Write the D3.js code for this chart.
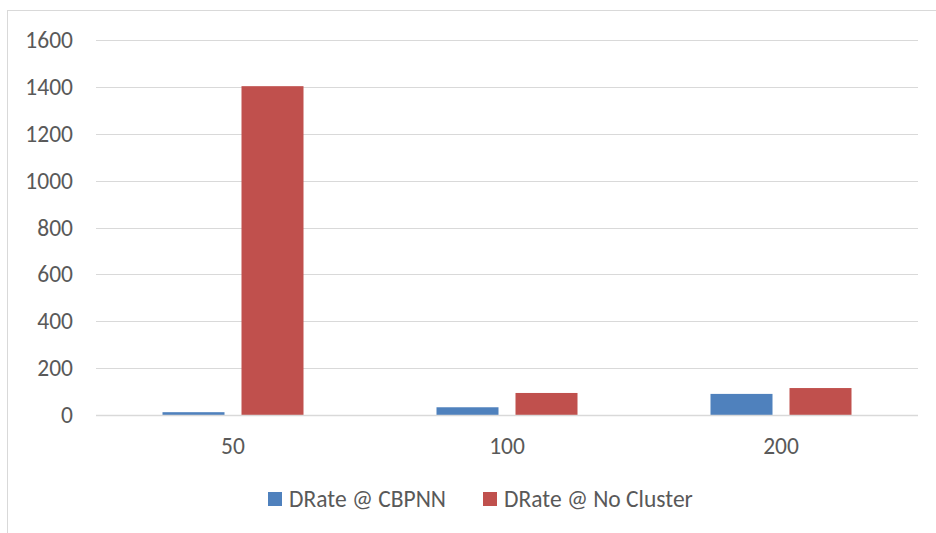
<!DOCTYPE html>
<html>
<head>
<meta charset="utf-8">
<script src="https://cdn.jsdelivr.net/npm/d3@7"></script>
<style>
  html, body { margin: 0; padding: 0; background: #fff; }
  svg { display: block; }
  text { font-family: Carlito, Calibri, "Liberation Sans", Arial, sans-serif; fill: #595959; }
</style>
</head>
<body>
<svg id="chart" width="936" height="533"></svg>
<script>
// Network sizes on the x axis
const categories = ["50", "100", "200"];
// Series names and values
const seriesNames = ["DRate @ CBPNN", "DRate @ No Cluster"];
const cbpnn = [12, 33, 90];
const noCluster = [1403, 94, 115];
const seriesColors = ["#4f81bd", "#c0504d"];
const yTicks = [0, 200, 400, 600, 800, 1000, 1200, 1400, 1600];

const FONT = 23.5;
const svg = d3.select("#chart");
const W = 936, H = 533;
const plot = { left: 96, right: 918, top: 40, bottom: 415 };

// chart area frame
svg.append("rect")
  .attr("x", 7.5).attr("y", 10.5)
  .attr("width", W + 20).attr("height", H + 20)
  .attr("fill", "#fff").attr("stroke", "#d9d9d9").attr("stroke-width", 1);

const x = d3.scaleBand().domain(categories).range([plot.left, plot.right]).paddingInner(0).paddingOuter(0);
const y = d3.scaleLinear().domain([0, 1600]).range([plot.bottom, plot.top]);

// horizontal gridlines
svg.append("g").selectAll("line").data(yTicks.filter(d => d > 0)).join("line")
  .attr("x1", plot.left).attr("x2", plot.right)
  .attr("y1", d => Math.round(y(d)) + 0.5).attr("y2", d => Math.round(y(d)) + 0.5)
  .attr("stroke", "#d9d9d9").attr("stroke-width", 1);

// y axis labels
const yAxis = d3.axisLeft(y).tickValues(yTicks).tickFormat(d3.format("d")).tickSize(0).tickPadding(0);
const gy = svg.append("g").attr("transform", `translate(${plot.left - 23},0)`).call(yAxis);
gy.select(".domain").remove();
gy.selectAll("text").attr("font-size", FONT).style("font-family", null).attr("fill", "#595959");

// bars
const barW = 62, gap = 17;
const sub = d3.scaleOrdinal().domain([0, 1]).range([-(gap / 2) - barW, gap / 2]);
const rows = categories.map((c, i) => [
  { c, s: 0, v: cbpnn[i] },
  { c, s: 1, v: noCluster[i] }
]).flat();

svg.append("g").selectAll("rect").data(rows).join("rect")
  .attr("x", d => x(d.c) + x.bandwidth() / 2 + sub(d.s))
  .attr("y", d => y(d.v))
  .attr("width", barW)
  .attr("height", d => y(0) - y(d.v))
  .attr("fill", d => seriesColors[d.s]);

// baseline
svg.append("line")
  .attr("x1", plot.left).attr("x2", plot.right)
  .attr("y1", y(0) + 0.5).attr("y2", y(0) + 0.5)
  .attr("stroke", "#d9d9d9").attr("stroke-width", 1.5);

// x axis labels
const xAxis = d3.axisBottom(x).tickSize(0).tickPadding(0);
const gx = svg.append("g").attr("transform", `translate(0,${plot.bottom + 22})`).call(xAxis);
gx.select(".domain").remove();
gx.selectAll("text").attr("font-size", FONT).style("font-family", null).attr("fill", "#595959");

// legend
const legendX = [268, 483];
const lg = svg.append("g").selectAll("g").data(seriesNames).join("g")
  .attr("transform", (d, i) => `translate(${legendX[i]},492)`);
lg.append("rect").attr("width", 14).attr("height", 14).attr("fill", (d, i) => seriesColors[i]);
lg.append("text").attr("x", 21).attr("y", 7).attr("dy", "0.35em")
  .attr("font-size", FONT).text(d => d);
</script>
</body>
</html>
